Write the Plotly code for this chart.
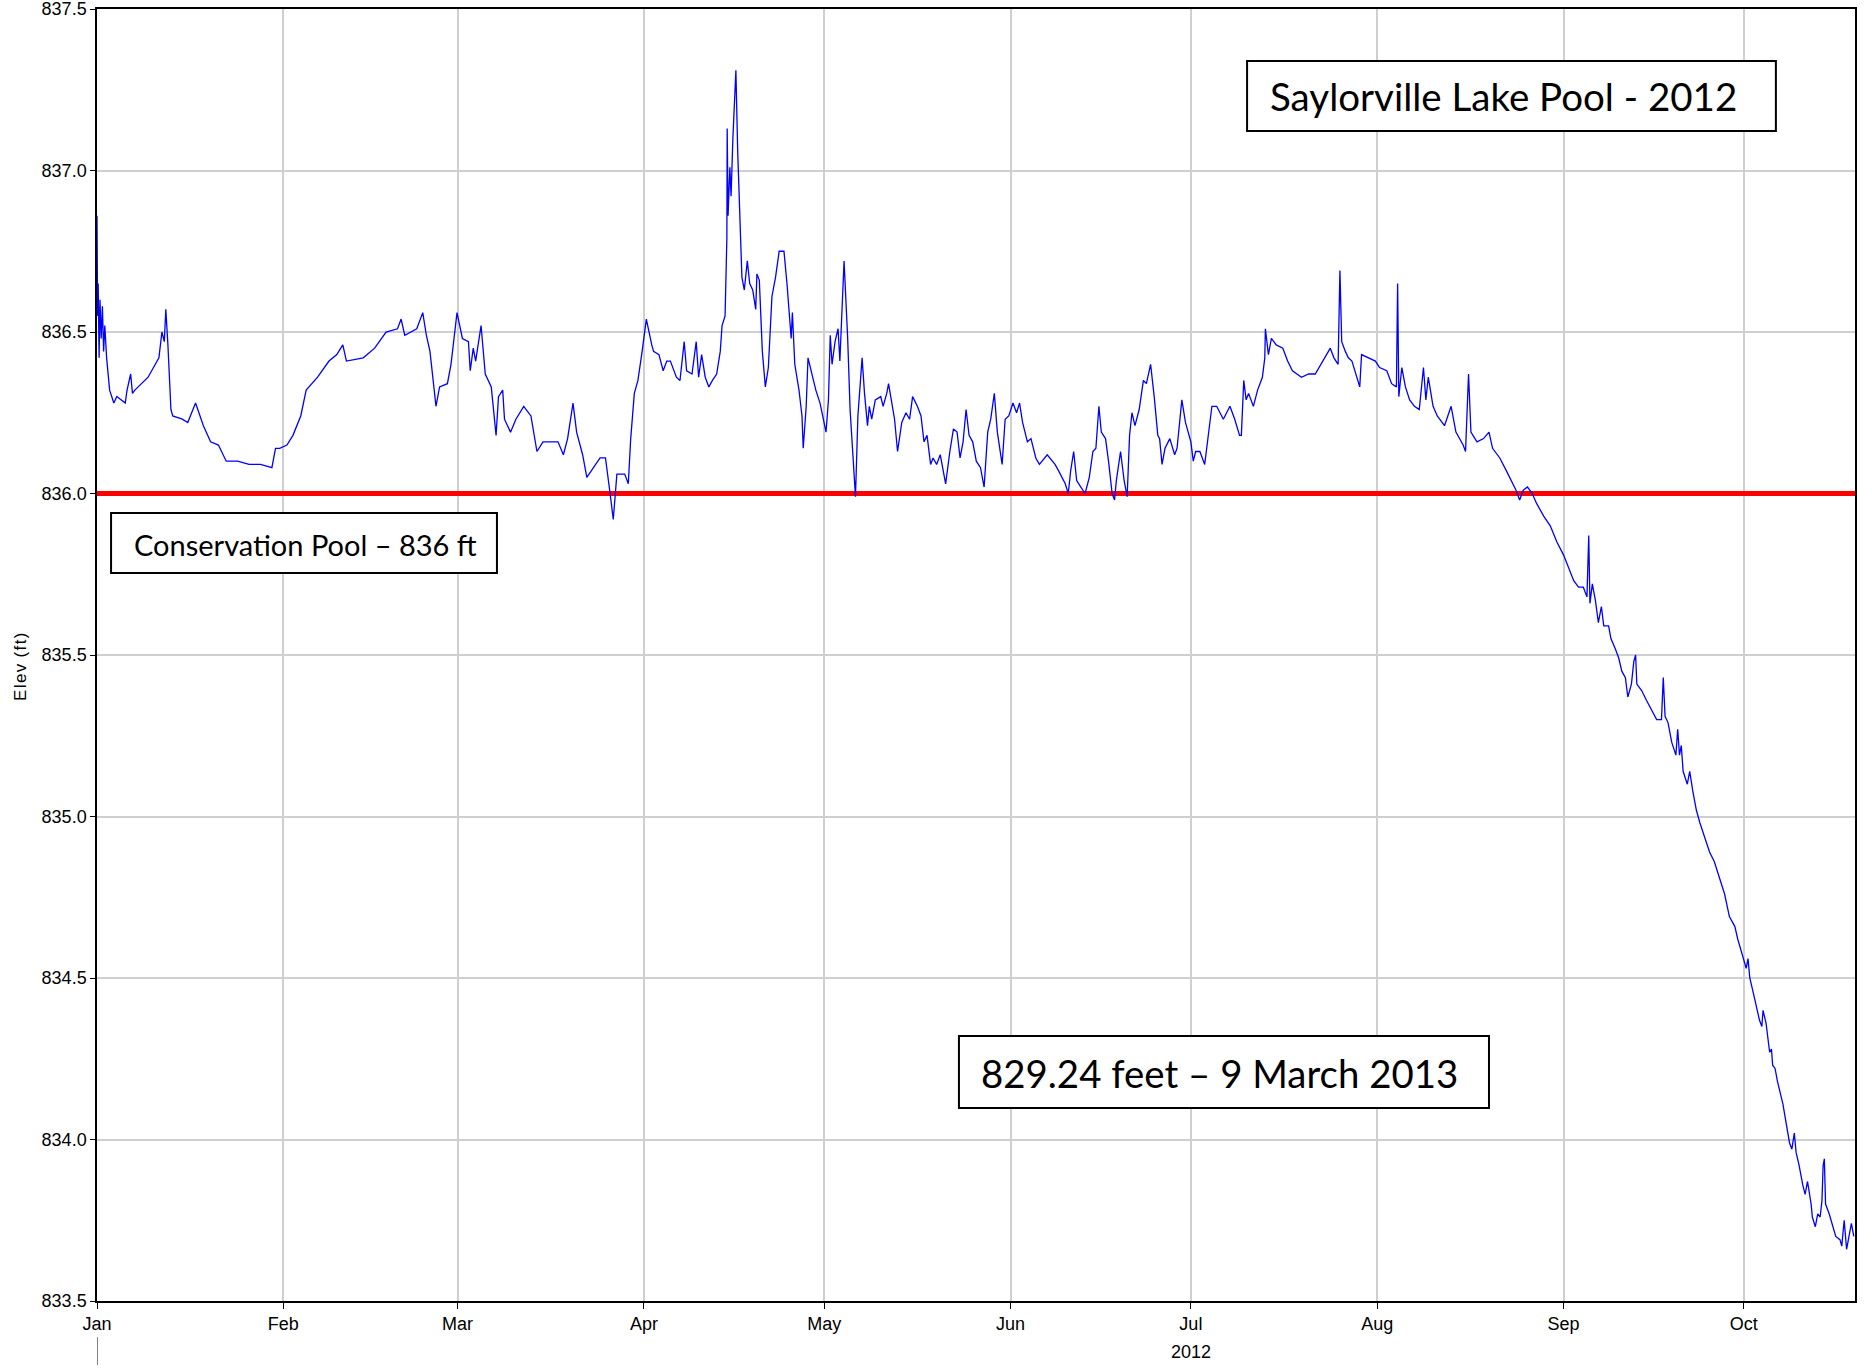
import pandas as pd
import plotly.graph_objects as go

# ---- data: days since 2012-01-01 and pool elevation (ft) ----
days_winter = [0.0, 0.1, 0.2, 0.35, 0.5, 0.7, 0.9, 1.1, 1.3, 1.6, 2.1, 2.8, 3.3, 4.7, 5.0, 5.6, 5.9, 6.3,
               8.5, 9.7, 10.3, 10.8, 11.2, 11.45, 11.8, 12.3, 12.6, 14.2, 15.1, 16.4, 17.7, 18.9, 20.2,
               21.5, 23.4, 25.3, 27.2, 29.1, 29.7, 30.4, 31.6, 32.6, 33.9, 34.8, 36.7, 38.6, 39.9, 40.9,
               41.5, 44.3, 46.2, 48.1, 50.0, 50.6, 51.2, 53.2, 54.2, 54.8, 55.4, 56.4, 57.0, 58.3, 58.9,
               59.9, 60.8, 61.8, 62.1, 62.6, 63.0, 63.9, 64.6, 65.6, 66.4, 66.8, 67.5, 67.8, 68.8, 69.7,
               71.0, 72.2, 73.2, 74.2, 76.7, 77.6, 78.3, 79.2, 79.8, 80.8, 81.5, 83.7, 84.6, 85.3, 85.9,
               86.5, 87.8, 88.4]
elev_winter = [836.86, 836.55, 836.65, 836.42, 836.60, 836.48, 836.58, 836.44, 836.52, 836.42, 836.32,
               836.28, 836.30, 836.28, 836.32, 836.37, 836.31, 836.32, 836.36, 836.40, 836.42, 836.50,
               836.47, 836.57, 836.46, 836.26, 836.24, 836.23, 836.22, 836.28, 836.21, 836.16, 836.15,
               836.10, 836.10, 836.09, 836.09, 836.08, 836.14, 836.14, 836.15, 836.18, 836.24, 836.32,
               836.36, 836.41, 836.43, 836.46, 836.41, 836.42, 836.45, 836.50, 836.51, 836.54, 836.49,
               836.51, 836.56, 836.49, 836.44, 836.27, 836.33, 836.34, 836.40, 836.56, 836.48, 836.47,
               836.38, 836.45, 836.41, 836.52, 836.37, 836.33, 836.18, 836.30, 836.32, 836.23, 836.19,
               836.23, 836.27, 836.24, 836.13, 836.16, 836.16, 836.12, 836.17, 836.28, 836.19, 836.12,
               836.05, 836.11, 836.11, 836.01, 835.92, 836.06, 836.06, 836.03]

days_spring = [88.8, 89.4, 90.0, 90.7, 91.4, 92.3, 92.6, 93.5, 94.2, 94.8, 95.4, 96.4, 97.0, 97.7, 98.1,
               99.0, 99.7, 100.1, 100.6, 101.2, 101.8, 102.4, 103.1, 103.7, 104.0, 104.5, 104.8, 104.85,
               105.0, 105.3, 105.5, 105.8, 106.3, 106.6, 106.9, 107.3, 107.7, 108.2, 108.6, 109.1, 109.6,
               109.8, 110.2, 110.7, 111.2, 111.7, 112.3, 112.9, 113.5, 114.3, 114.8, 115.5, 115.7, 116.1,
               116.8, 117.3, 117.5, 118.0, 118.3, 119.0, 119.6, 120.3, 120.9, 121.3, 121.7, 122.0, 122.3,
               122.8, 123.3, 123.6, 124.3, 124.9, 125.3, 125.8, 126.2, 126.6, 127.3, 127.7, 128.2, 128.5,
               128.9, 129.5, 130.4, 130.8, 131.4, 131.7, 132.2, 132.7, 133.2, 133.9, 134.6, 135.2, 135.7,
               136.5, 137.1, 137.6, 138.1, 138.7, 139.1, 139.7, 140.3, 141.2, 141.9, 142.5, 143.1, 143.6,
               144.1, 144.6, 145.1, 145.7, 146.3, 147.0, 147.6, 148.2, 148.7, 149.3, 149.8, 150.6, 151.1,
               151.7, 152.4, 153.0, 153.5, 154.0, 154.8, 155.4, 156.2, 156.8, 158.1, 159.4, 160.0, 160.6,
               161.1, 161.6, 162.0, 162.5, 163.0, 163.7, 164.4, 165.1, 165.7, 166.2, 166.7, 167.1, 167.8,
               168.3, 168.9, 169.3, 169.6, 170.3, 170.9, 171.4, 171.8, 172.2, 172.7, 173.4, 174.1, 174.6,
               175.3]
elev_spring = [836.17, 836.31, 836.35, 836.44, 836.54, 836.46, 836.44, 836.43, 836.38, 836.41, 836.41,
               836.36, 836.35, 836.47, 836.38, 836.37, 836.47, 836.36, 836.43, 836.36, 836.33, 836.35,
               836.37, 836.44, 836.52, 836.55, 836.79, 837.13, 836.86, 837.01, 836.92, 837.10, 837.31,
               837.06, 836.86, 836.67, 836.63, 836.72, 836.65, 836.63, 836.57, 836.68, 836.66, 836.44,
               836.33, 836.39, 836.61, 836.67, 836.75, 836.75, 836.65, 836.48, 836.56, 836.40, 836.32,
               836.24, 836.14, 836.27, 836.42, 836.37, 836.32, 836.28, 836.23, 836.19, 836.29, 836.49,
               836.40, 836.47, 836.51, 836.41, 836.72, 836.48, 836.26, 836.10, 835.99, 836.24, 836.42,
               836.31, 836.21, 836.27, 836.23, 836.29, 836.30, 836.27, 836.31, 836.34, 836.28, 836.23,
               836.13, 836.22, 836.25, 836.23, 836.30, 836.27, 836.24, 836.16, 836.18, 836.09, 836.11,
               836.09, 836.12, 836.03, 836.13, 836.20, 836.19, 836.11, 836.16, 836.26, 836.18, 836.16,
               836.10, 836.08, 836.02, 836.19, 836.23, 836.31, 836.19, 836.09, 836.23, 836.24, 836.28,
               836.25, 836.28, 836.22, 836.16, 836.17, 836.11, 836.09, 836.12, 836.09, 836.07, 836.05,
               836.03, 836.00, 836.07, 836.13, 836.04, 836.02, 836.00, 836.05, 836.13, 836.14, 836.27,
               836.19, 836.17, 836.10, 836.00, 835.98, 836.04, 836.13, 836.04, 835.99, 836.18, 836.25,
               836.21, 836.26, 836.35, 836.34, 836.40]

days_summer = [175.9, 176.5, 176.8, 177.2, 177.7, 178.5, 179.3, 179.7, 180.5, 181.1, 182.0, 182.4, 182.8,
               183.5, 184.3, 185.1, 185.5, 186.3, 187.4, 188.5, 189.3, 190.1, 190.4, 190.8, 191.2, 191.6,
               192.4, 193.1, 193.9, 194.3, 194.4, 194.9, 195.4, 196.2, 197.3, 198.1, 198.9, 200.4, 201.6,
               202.7, 203.9, 205.2, 205.8, 206.5, 206.8, 207.1, 207.7, 208.2, 208.8, 209.5, 210.1, 210.4,
               211.5, 212.7, 213.4, 214.6, 215.4, 216.2, 216.4, 216.6, 217.1, 217.7, 218.4, 219.2, 220.0,
               220.7, 221.1, 221.5, 222.3, 223.0, 224.2, 225.3, 226.1, 227.3, 227.7, 228.2, 228.6, 229.6,
               230.7, 231.6, 232.2, 233.4, 234.5, 235.3, 236.1, 236.7, 237.3, 238.0, 238.8, 239.5]
elev_summer = [836.30, 836.18, 836.17, 836.09, 836.14, 836.17, 836.12, 836.14, 836.29, 836.22, 836.16,
               836.10, 836.13, 836.13, 836.09, 836.22, 836.27, 836.27, 836.23, 836.27, 836.23, 836.18,
               836.18, 836.35, 836.29, 836.31, 836.27, 836.32, 836.36, 836.42, 836.51, 836.43, 836.48,
               836.46, 836.45, 836.41, 836.38, 836.36, 836.37, 836.37, 836.41, 836.45, 836.42, 836.40,
               836.69, 836.47, 836.44, 836.42, 836.41, 836.37, 836.33, 836.43, 836.42, 836.41, 836.39,
               836.38, 836.34, 836.33, 836.65, 836.30, 836.39, 836.33, 836.29, 836.27, 836.26, 836.39,
               836.29, 836.36, 836.27, 836.24, 836.21, 836.27, 836.19, 836.15, 836.13, 836.37, 836.19,
               836.16, 836.17, 836.19, 836.14, 836.11, 836.07, 836.04, 836.01, 835.98, 836.01, 836.02,
               836.00, 835.97]

days_fall = [240.7, 241.8, 242.9, 244.0, 244.8, 245.7, 246.5, 247.3, 247.9, 248.2, 248.4, 248.8, 249.3,
             249.8, 250.3, 250.7, 251.5, 251.9, 252.6, 253.2, 253.7, 254.3, 254.7, 255.3, 255.7, 256.0,
             256.2, 257.0, 257.8, 258.7, 259.5, 260.3, 260.6, 260.9, 261.4, 262.0, 262.7, 263.0, 263.3,
             263.6, 263.9, 264.6, 265.0, 265.5, 266.1, 266.7, 267.8, 268.3, 269.1, 270.0, 270.8, 271.6,
             272.5, 273.0, 273.8, 274.4, 274.7, 275.0, 275.5, 276.0, 276.6, 277.0, 277.2, 277.7, 278.3,
             278.6, 278.8, 279.2, 279.6, 280.5, 281.1, 281.6, 282.0, 282.4, 282.7, 283.2, 283.8, 284.2,
             284.6, 285.2, 285.4, 285.9, 286.3, 286.7, 287.0, 287.2, 287.4, 287.6, 288.2, 288.8, 289.3,
             290.0, 290.3, 290.7, 291.1, 291.5, 291.9, 292.3]
elev_fall = [835.93, 835.90, 835.85, 835.81, 835.77, 835.73, 835.71, 835.71, 835.68, 835.87, 835.66,
             835.72, 835.67, 835.60, 835.65, 835.59, 835.59, 835.55, 835.52, 835.49, 835.45, 835.43,
             835.37, 835.41, 835.48, 835.50, 835.41, 835.39, 835.36, 835.33, 835.30, 835.30, 835.43,
             835.31, 835.29, 835.23, 835.19, 835.27, 835.19, 835.22, 835.14, 835.10, 835.14, 835.08,
             835.02, 834.98, 834.92, 834.89, 834.86, 834.81, 834.76, 834.69, 834.66, 834.62, 834.57,
             834.53, 834.56, 834.50, 834.46, 834.42, 834.37, 834.35, 834.40, 834.36, 834.27, 834.28,
             834.23, 834.22, 834.18, 834.11, 834.05, 833.99, 833.97, 834.02, 833.96, 833.92, 833.86,
             833.83, 833.87, 833.80, 833.76, 833.73, 833.77, 833.76, 833.81, 833.92, 833.94, 833.80,
             833.77, 833.73, 833.70, 833.69, 833.67, 833.75, 833.66, 833.70, 833.74, 833.70]

conservation_pool = 836.0
y_ticks = [833.5, 834.0, 834.5, 835.0, 835.5, 836.0, 836.5, 837.0, 837.5]
title_text = "Saylorville Lake Pool - 2012"
pool_text = "Conservation Pool \u2013 836 ft"
note_text = "829.24 feet \u2013 9 March 2013"
y_title = "E\u200al\u200ae\u200av\u200a (\u200af\u200at\u200a)"

# ---- build ----
base = pd.Timestamp("2012-01-01")
days = days_winter + days_spring + days_summer + days_fall
elev = elev_winter + elev_spring + elev_summer + elev_fall
dates = base + pd.to_timedelta(days, unit="D")
x_end = base + pd.Timedelta(hours=292.5 * 24)

tick_font = dict(family="Liberation Sans Narrow, Arial Narrow, Liberation Sans, Arial", size=18, color="#000")
box_font = "Lato, Carlito, Calibri, sans-serif"

fig = go.Figure()
# conservation pool reference line (drawn under the elevation trace)
fig.add_trace(go.Scatter(x=[base, x_end], y=[conservation_pool, conservation_pool], mode="lines",
                         line=dict(color="#FF0000", width=5), showlegend=False, hoverinfo="skip"))
fig.add_trace(go.Scatter(x=dates, y=elev, mode="lines",
                         line=dict(color="#0000FF", width=1.3), showlegend=False, hoverinfo="x+y"))

# boxes
boxes = [
    (0.6542, 0.9550, 0.9056, 0.9598, 0.6661, 0.9327, title_text, 38.5),
    (0.0080, 0.2275, 0.5635, 0.6099, 0.0199, 0.5855, pool_text, 29),
    (0.4903, 0.7918, 0.1494, 0.2051, 0.5017, 0.1762, note_text, 38.4),
]
for x0, x1, y0, y1, tx, ty, txt, fs in boxes:
    fig.add_shape(type="rect", xref="paper", yref="paper", x0=x0, x1=x1, y0=y0, y1=y1,
                  line=dict(color="#000", width=2), fillcolor="#FFFFFF", layer="above")
    fig.add_annotation(xref="paper", yref="paper", x=tx, y=ty, xanchor="left", yanchor="middle",
                       text=txt, showarrow=False, font=dict(family=box_font, size=fs, color="#000"))

# year label and year tick
fig.add_annotation(xref="x", yref="paper", x="2012-07-01", y=-0.0395, text="2012", showarrow=False,
                   font=tick_font, yanchor="middle", xanchor="center")
fig.add_shape(type="line", xref="x", yref="paper", x0="2012-01-01", x1="2012-01-01", y0=-0.028, y1=-0.0496,
              line=dict(color="#000", width=1))
# y title
fig.add_annotation(xref="paper", yref="paper", x=-0.0436, y=0.491, text=y_title, textangle=-90,
                   xanchor="center", yanchor="middle",
                   showarrow=False, font=dict(family="Liberation Sans, Arial", size=17, color="#000"))

fig.update_layout(
    width=1872, height=1369,
    margin=dict(l=97, r=17, t=9, b=68, autoexpand=False),
    paper_bgcolor="white", plot_bgcolor="white",
    showlegend=False,
)
fig.update_xaxes(
    range=[base, x_end], type="date", dtick="M1", tick0="2012-01-01", tickformat="%b",
    showgrid=True, gridcolor="#CFCFCF", gridwidth=1.5,
    showline=True, linecolor="#000", linewidth=1.5, mirror=True,
    ticks="outside", ticklen=6, tickcolor="#000", tickwidth=1,
    tickfont=tick_font, zeroline=False, automargin=False, ticklabeloverflow="allow",
)
fig.update_yaxes(
    range=[833.5, 837.5], tickvals=y_ticks, tickformat=".1f",
    showgrid=True, gridcolor="#CFCFCF", gridwidth=1.5,
    showline=True, linecolor="#000", linewidth=1.5, mirror=True,
    ticks="outside", ticklen=5, tickcolor="#000", tickwidth=1,
    tickfont=tick_font, zeroline=False, automargin=False, ticklabeloverflow="allow",
)

# remove the default 8px page margin so the figure sits at the window's top-left corner
fig.write_html("out.html", config={"displayModeBar": False},
               post_script="document.body.style.margin='0px';")
